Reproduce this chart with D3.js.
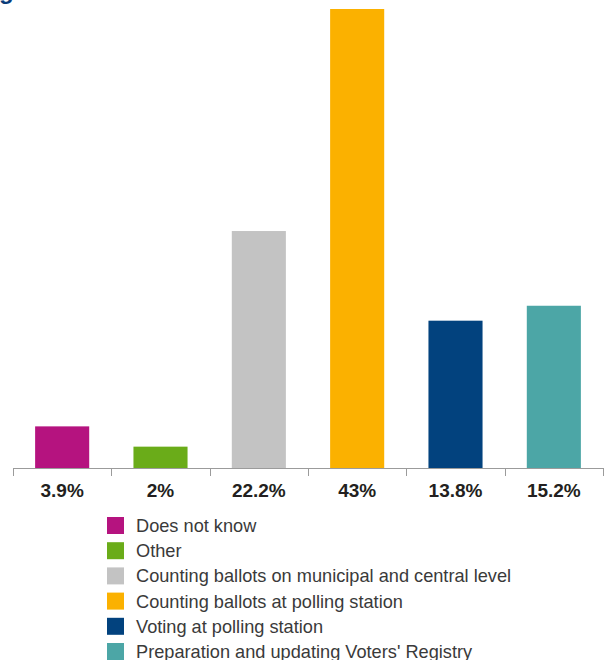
<!DOCTYPE html>
<html>
<head>
<meta charset="utf-8">
<script src="https://cdn.jsdelivr.net/npm/d3@7"></script>
<style>
  body { margin: 0; background: #fff; }
  svg { display: block; }
  .lbl { font-family: "Liberation Sans", Arial, sans-serif; font-weight: bold; font-size: 19px; fill: #231f20; }
  .leg { font-family: "Liberation Sans", Arial, sans-serif; font-size: 18.2px; fill: #3a3a3a; }
</style>
</head>
<body>
<svg class="chart" width="611" height="660"></svg>
<script>
// categories, values and colours, left to right
var categories = ["Does not know", "Other", "Counting ballots on municipal and central level",
                  "Counting ballots at polling station", "Voting at polling station",
                  "Preparation and updating Voters' Registry"];
var values = [3.9, 2, 22.2, 43, 13.8, 15.2];
var valueLabels = ["3.9%", "2%", "22.2%", "43%", "13.8%", "15.2%"];
var colors = ["#b5137f", "#6aac19", "#c3c3c3", "#fbb100", "#02427e", "#4ca6a6"];

var svg = d3.select("svg.chart");
var margin = {left: 13, right: 8, top: 9, bottom: 192};
var width = 611 - margin.left - margin.right,
    height = 660 - margin.top - margin.bottom;

// cut-off title glyph at the very top (only its descender is visible)
svg.append("text")
    .attr("x", -1).attr("y", -1)
    .style("font-family", "Liberation Sans, Arial, sans-serif")
    .style("font-weight", "bold").style("font-size", "24px")
    .style("fill", "#0a3d7a")
    .text("g");

var g = svg.append("g").attr("transform", "translate(" + margin.left + "," + margin.top + ")");

var x = d3.scaleBand()
    .domain(categories)
    .range([0, width])
    .paddingInner(0.45)
    .paddingOuter(0.225);
var y = d3.scaleLinear()
    .domain([0, 43])
    .range([height, 0]);

g.selectAll("rect.bar")
    .data(values)
  .enter().append("rect")
    .attr("class", "bar")
    .attr("x", function(d, i) { return x(categories[i]); })
    .attr("y", function(d) { return y(d); })
    .attr("width", x.bandwidth())
    .attr("height", function(d) { return height - y(d); })
    .attr("fill", function(d, i) { return colors[i]; });

// axis line and ticks between categories
var edge = d3.scaleLinear().domain([0, categories.length]).range([0, width]);
g.append("line")
    .attr("x1", 0).attr("x2", width)
    .attr("y1", height + 0.5).attr("y2", height + 0.5)
    .attr("stroke", "#9b9b9b").attr("stroke-width", 1);
g.selectAll("line.tick")
    .data(d3.range(categories.length + 1))
  .enter().append("line")
    .attr("class", "tick")
    .attr("x1", function(d) { return Math.round(edge(d)) + 0.5; })
    .attr("x2", function(d) { return Math.round(edge(d)) + 0.5; })
    .attr("y1", height).attr("y2", height + 8)
    .attr("stroke", "#9b9b9b");

g.selectAll("text.lbl")
    .data(valueLabels)
  .enter().append("text")
    .attr("class", "lbl")
    .attr("x", function(d, i) { return x(categories[i]) + x.bandwidth() / 2; })
    .attr("y", height + 29)
    .attr("text-anchor", "middle")
    .text(function(d) { return d; });

// legend
var leg = svg.append("g").attr("transform", "translate(107,517)");
var ly = d3.scaleLinear().domain([0, 1]).range([0, 25.2]);
var row = leg.selectAll("g.row")
    .data(categories)
  .enter().append("g")
    .attr("class", "row")
    .attr("transform", function(d, i) { return "translate(0," + ly(i) + ")"; });
row.append("rect")
    .attr("width", 17).attr("height", 17)
    .attr("fill", function(d, i) { return colors[i]; });
row.append("text")
    .attr("class", "leg")
    .attr("x", 29).attr("y", 15)
    .text(function(d) { return d; });
</script>
</body>
</html>
